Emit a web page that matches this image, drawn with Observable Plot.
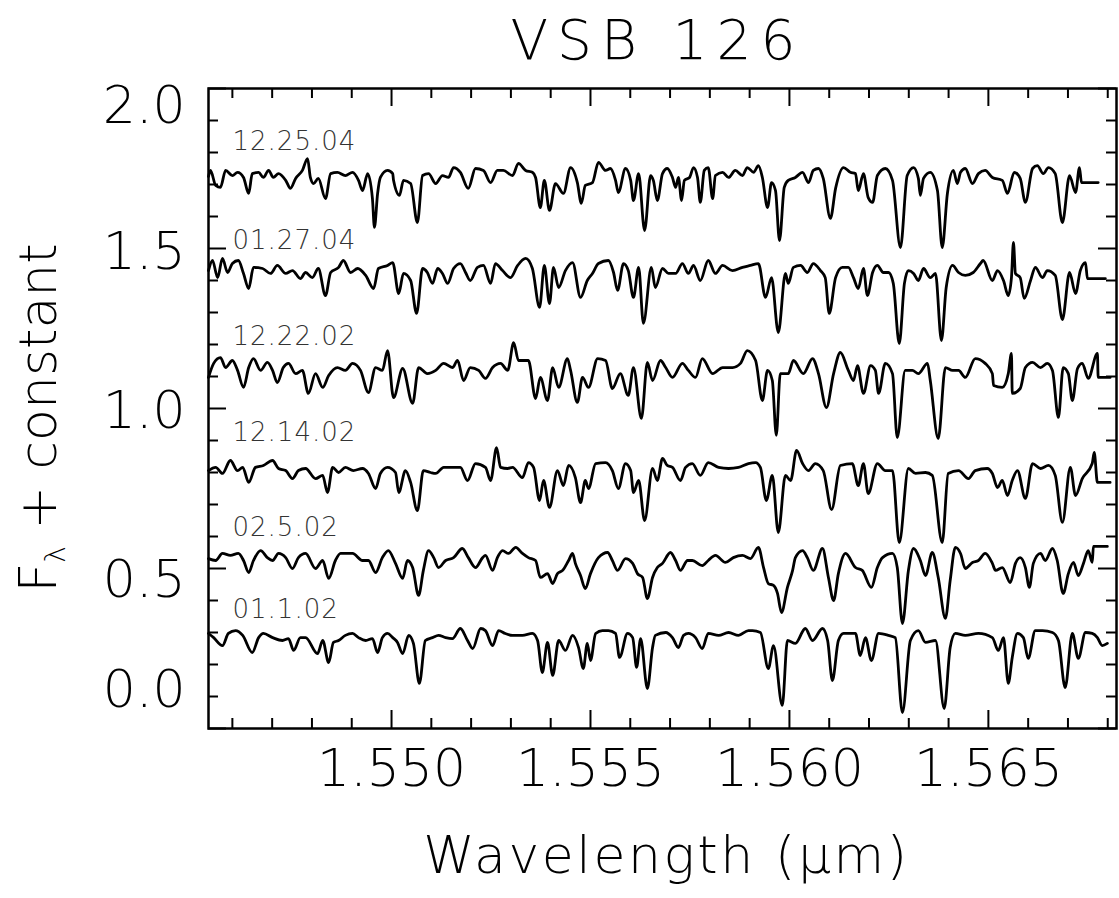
<!DOCTYPE html>
<html><head><meta charset="utf-8">
<script src="https://cdn.jsdelivr.net/npm/d3@7"></script>
<script src="https://cdn.jsdelivr.net/npm/@observablehq/plot@0.6"></script>
<style>
html,body{margin:0;padding:0;background:#fff;}
svg text{font-family:"DejaVu Sans";font-weight:200;}
</style>
</head><body><div id="chart"></div>
<script>
const title = "VSB 126";
const xTitle = "Wavelength (µm)";
const xMajorTicks = [1.550, 1.555, 1.560, 1.565];
const xMinorTicks = [1.546,1.547,1.548,1.549,1.551,1.552,1.553,1.554,1.556,1.557,1.558,1.559,1.561,1.562,1.563,1.564,1.566,1.567,1.568];
const yMajorTicks = [0, 0.5, 1.0, 1.5, 2.0];
const yMinorTicks = [0.1,0.2,0.3,0.4,0.6,0.7,0.8,0.9,1.1,1.2,1.3,1.4,1.6,1.7,1.8,1.9];
const yTickLabels = ["0.0","0.5","1.0","1.5","2.0"];
const yTickLabelAt = [0.119,0.4625,0.991,1.4875,1.944];
const spectrumDates = ["12.25.04","01.27.04","12.22.02","12.14.02","02.5.02","01.1.02"];
const dateLabelY = [1.834,1.525,1.225,0.925,0.628,0.372];

const spec_122504 = [[1.54540,1.725],[1.54545,1.744],[1.54558,1.697],[1.54570,1.691],[1.54583,1.744],[1.54600,1.728],[1.54613,1.738],[1.54628,1.722],[1.54641,1.672],[1.54650,1.734],[1.54666,1.738],[1.54678,1.722],[1.54691,1.744],[1.54703,1.722],[1.54716,1.734],[1.54734,1.713],[1.54746,1.688],[1.54759,1.719],[1.54776,1.744],[1.54789,1.781],[1.54796,1.722],[1.54804,1.703],[1.54816,1.719],[1.54834,1.656],[1.54847,1.734],[1.54864,1.738],[1.54884,1.728],[1.54902,1.738],[1.54917,1.713],[1.54927,1.681],[1.54940,1.734],[1.54952,1.656],[1.54957,1.566],[1.54965,1.672],[1.54972,1.722],[1.54990,1.744],[1.55003,1.734],[1.55005,1.713],[1.55020,1.666],[1.55030,1.713],[1.55048,1.703],[1.55065,1.581],[1.55078,1.728],[1.55093,1.734],[1.55111,1.703],[1.55128,1.728],[1.55143,1.722],[1.55156,1.753],[1.55173,1.738],[1.55193,1.688],[1.55211,1.750],[1.55231,1.744],[1.55249,1.706],[1.55266,1.744],[1.55281,1.744],[1.55304,1.728],[1.55319,1.766],[1.55337,1.744],[1.55354,1.738],[1.55362,1.722],[1.55374,1.628],[1.55384,1.713],[1.55397,1.619],[1.55412,1.703],[1.55432,1.672],[1.55450,1.753],[1.55467,1.706],[1.55477,1.641],[1.55487,1.697],[1.55505,1.706],[1.55520,1.769],[1.55538,1.744],[1.55550,1.750],[1.55563,1.713],[1.55570,1.675],[1.55588,1.750],[1.55601,1.713],[1.55608,1.650],[1.55621,1.734],[1.55636,1.556],[1.55651,1.728],[1.55658,1.713],[1.55668,1.650],[1.55681,1.734],[1.55693,1.750],[1.55706,1.722],[1.55714,1.691],[1.55721,1.722],[1.55729,1.650],[1.55736,1.713],[1.55749,1.722],[1.55759,1.753],[1.55769,1.722],[1.55776,1.644],[1.55786,1.744],[1.55796,1.753],[1.55807,1.656],[1.55814,1.728],[1.55832,1.738],[1.55847,1.722],[1.55864,1.744],[1.55882,1.728],[1.55894,1.753],[1.55910,1.738],[1.55922,1.759],[1.55932,1.722],[1.55945,1.628],[1.55955,1.706],[1.55965,1.681],[1.55975,1.525],[1.55987,1.691],[1.55997,1.713],[1.56015,1.722],[1.56033,1.738],[1.56048,1.706],[1.56060,1.744],[1.56073,1.750],[1.56085,1.719],[1.56103,1.594],[1.56116,1.688],[1.56136,1.753],[1.56153,1.738],[1.56166,1.734],[1.56173,1.681],[1.56186,1.734],[1.56198,1.659],[1.56209,1.644],[1.56221,1.728],[1.56241,1.750],[1.56259,1.713],[1.56279,1.503],[1.56296,1.728],[1.56312,1.753],[1.56324,1.719],[1.56329,1.666],[1.56337,1.719],[1.56354,1.738],[1.56372,1.681],[1.56384,1.503],[1.56397,1.672],[1.56412,1.744],[1.56422,1.703],[1.56430,1.738],[1.56442,1.750],[1.56460,1.703],[1.56475,1.734],[1.56492,1.744],[1.56510,1.722],[1.56535,1.713],[1.56548,1.672],[1.56565,1.738],[1.56580,1.719],[1.56593,1.644],[1.56611,1.750],[1.56623,1.759],[1.56638,1.734],[1.56651,1.753],[1.56668,1.734],[1.56686,1.581],[1.56704,1.728],[1.56719,1.675],[1.56729,1.753],[1.56734,1.706],[1.56776,1.706]];

const spec_012704 = [[1.54540,1.431],[1.54550,1.4625],[1.54563,1.409],[1.54575,1.469],[1.54588,1.425],[1.54600,1.453],[1.54615,1.4625],[1.54628,1.422],[1.54641,1.375],[1.54653,1.441],[1.54676,1.4375],[1.54696,1.422],[1.54713,1.447],[1.54734,1.422],[1.54751,1.431],[1.54771,1.406],[1.54784,1.425],[1.54801,1.409],[1.54816,1.4375],[1.54834,1.353],[1.54847,1.425],[1.54867,1.441],[1.54879,1.4625],[1.54897,1.425],[1.54915,1.4375],[1.54935,1.416],[1.54955,1.375],[1.54967,1.4375],[1.54990,1.447],[1.55003,1.456],[1.55018,1.359],[1.55030,1.422],[1.55048,1.400],[1.55063,1.297],[1.55078,1.4375],[1.55090,1.425],[1.55103,1.391],[1.55116,1.4375],[1.55128,1.422],[1.55141,1.391],[1.55156,1.4375],[1.55173,1.453],[1.55186,1.425],[1.55198,1.400],[1.55216,1.441],[1.55231,1.447],[1.55249,1.391],[1.55261,1.453],[1.55279,1.431],[1.55299,1.409],[1.55317,1.447],[1.55337,1.469],[1.55354,1.4375],[1.55372,1.316],[1.55384,1.447],[1.55397,1.328],[1.55407,1.441],[1.55420,1.378],[1.55437,1.431],[1.55455,1.456],[1.55475,1.347],[1.55492,1.400],[1.55505,1.422],[1.55520,1.453],[1.55545,1.4625],[1.55558,1.425],[1.55568,1.369],[1.55583,1.453],[1.55595,1.431],[1.55608,1.347],[1.55621,1.441],[1.55633,1.266],[1.55653,1.441],[1.55663,1.378],[1.55681,1.4375],[1.55696,1.422],[1.55714,1.422],[1.55731,1.453],[1.55746,1.422],[1.55759,1.447],[1.55776,1.400],[1.55796,1.4625],[1.55814,1.422],[1.55832,1.447],[1.55857,1.431],[1.55882,1.441],[1.55902,1.447],[1.55922,1.453],[1.55940,1.347],[1.55955,1.409],[1.55972,1.2375],[1.55990,1.422],[1.55997,1.391],[1.56010,1.441],[1.56028,1.447],[1.56045,1.425],[1.56060,1.453],[1.56078,1.431],[1.56090,1.409],[1.56100,1.297],[1.56116,1.409],[1.56133,1.441],[1.56148,1.441],[1.56161,1.409],[1.56173,1.375],[1.56186,1.4375],[1.56196,1.353],[1.56209,1.425],[1.56221,1.447],[1.56236,1.425],[1.56249,1.425],[1.56261,1.391],[1.56276,1.203],[1.56289,1.391],[1.56299,1.431],[1.56312,1.422],[1.56324,1.400],[1.56337,1.4375],[1.56354,1.409],[1.56367,1.422],[1.56382,1.2125],[1.56394,1.378],[1.56410,1.447],[1.56425,1.425],[1.56442,1.416],[1.56462,1.425],[1.56480,1.453],[1.56487,1.4625],[1.56510,1.400],[1.56523,1.431],[1.56538,1.400],[1.56550,1.353],[1.56558,1.409],[1.56563,1.519],[1.56568,1.422],[1.56580,1.409],[1.56590,1.344],[1.56606,1.400],[1.56618,1.441],[1.56636,1.409],[1.56648,1.431],[1.56668,1.416],[1.56686,1.278],[1.56704,1.425],[1.56719,1.359],[1.56731,1.431],[1.56744,1.456],[1.56749,1.406],[1.56794,1.406]];

const spec_122202 = [[1.54540,1.097],[1.54553,1.141],[1.54570,1.159],[1.54583,1.128],[1.54600,1.150],[1.54613,1.119],[1.54628,1.066],[1.54641,1.128],[1.54653,1.156],[1.54671,1.119],[1.54688,1.144],[1.54701,1.119],[1.54713,1.081],[1.54728,1.128],[1.54741,1.141],[1.54759,1.109],[1.54776,1.119],[1.54791,1.047],[1.54809,1.109],[1.54827,1.066],[1.54842,1.103],[1.54864,1.128],[1.54884,1.119],[1.54902,1.141],[1.54922,1.119],[1.54942,1.050],[1.54960,1.128],[1.54977,1.119],[1.54990,1.181],[1.55005,1.034],[1.55028,1.125],[1.55053,1.016],[1.55068,1.128],[1.55090,1.109],[1.55111,1.119],[1.55131,1.141],[1.55153,1.128],[1.55166,1.150],[1.55181,1.0875],[1.55198,1.128],[1.55219,1.119],[1.55236,1.094],[1.55254,1.128],[1.55274,1.141],[1.55292,1.119],[1.55307,1.206],[1.55319,1.150],[1.55344,1.150],[1.55362,1.031],[1.55374,1.097],[1.55392,1.025],[1.55405,1.128],[1.55420,1.066],[1.55442,1.156],[1.55450,1.119],[1.55467,1.019],[1.55480,1.097],[1.55495,1.066],[1.55518,1.156],[1.55538,1.150],[1.55555,1.0625],[1.55575,1.109],[1.55595,1.041],[1.55608,1.128],[1.55628,0.969],[1.55643,1.144],[1.55656,1.0875],[1.55676,1.150],[1.55689,1.128],[1.55706,1.097],[1.55731,1.141],[1.55746,1.119],[1.55764,1.097],[1.55781,1.156],[1.55807,1.109],[1.55832,1.128],[1.55857,1.128],[1.55877,1.141],[1.55894,1.181],[1.55915,1.150],[1.55932,1.025],[1.55945,1.119],[1.55957,1.0875],[1.55967,0.916],[1.55977,1.109],[1.55997,1.109],[1.56010,1.150],[1.56035,1.109],[1.56058,1.156],[1.56073,1.109],[1.56093,1.003],[1.56111,1.109],[1.56128,1.175],[1.56148,1.119],[1.56161,1.0875],[1.56171,1.134],[1.56186,1.047],[1.56204,1.134],[1.56216,1.119],[1.56224,1.047],[1.56241,1.141],[1.56259,1.109],[1.56271,0.909],[1.56291,1.119],[1.56309,1.119],[1.56324,1.109],[1.56347,1.141],[1.56354,1.0875],[1.56374,0.906],[1.56392,1.128],[1.56410,1.119],[1.56425,1.119],[1.56442,1.097],[1.56467,1.156],[1.56492,1.141],[1.56510,1.109],[1.56513,1.072],[1.56535,1.066],[1.56550,1.109],[1.56558,1.172],[1.56560,1.047],[1.56580,1.0625],[1.56593,1.128],[1.56611,1.144],[1.56631,1.128],[1.56648,1.141],[1.56661,1.119],[1.56676,0.972],[1.56688,1.128],[1.56701,1.109],[1.56711,1.025],[1.56724,1.125],[1.56736,1.141],[1.56751,1.094],[1.56774,1.172],[1.56776,1.097],[1.56806,1.097]];

const spec_121402 = [[1.54540,0.806],[1.54558,0.816],[1.54575,0.797],[1.54595,0.8375],[1.54613,0.806],[1.54626,0.816],[1.54641,0.769],[1.54658,0.816],[1.54678,0.822],[1.54701,0.8375],[1.54716,0.8125],[1.54734,0.806],[1.54751,0.781],[1.54766,0.806],[1.54784,0.8125],[1.54809,0.781],[1.54827,0.791],[1.54839,0.7375],[1.54852,0.816],[1.54867,0.800],[1.54884,0.816],[1.54904,0.806],[1.54927,0.8125],[1.54942,0.797],[1.54960,0.750],[1.54972,0.797],[1.54990,0.816],[1.55010,0.800],[1.55018,0.7375],[1.55035,0.806],[1.55048,0.769],[1.55065,0.681],[1.55080,0.806],[1.55098,0.800],[1.55111,0.797],[1.55131,0.816],[1.55153,0.816],[1.55173,0.816],[1.55191,0.775],[1.55211,0.828],[1.55236,0.816],[1.55249,0.775],[1.55264,0.878],[1.55274,0.816],[1.55292,0.8125],[1.55304,0.816],[1.55329,0.784],[1.55344,0.831],[1.55357,0.816],[1.55372,0.7125],[1.55382,0.775],[1.55397,0.691],[1.55417,0.806],[1.55432,0.759],[1.55445,0.822],[1.55462,0.784],[1.55475,0.706],[1.55487,0.775],[1.55495,0.750],[1.55513,0.828],[1.55538,0.831],[1.55555,0.806],[1.55570,0.750],[1.55588,0.828],[1.55601,0.806],[1.55608,0.7375],[1.55621,0.775],[1.55636,0.650],[1.55656,0.8125],[1.55668,0.775],[1.55681,0.844],[1.55693,0.822],[1.55706,0.816],[1.55726,0.775],[1.55739,0.816],[1.55756,0.828],[1.55776,0.791],[1.55796,0.831],[1.55822,0.816],[1.55847,0.8125],[1.55872,0.816],[1.55897,0.828],[1.55915,0.831],[1.55927,0.816],[1.55942,0.7125],[1.55957,0.791],[1.55972,0.6125],[1.55990,0.791],[1.56003,0.775],[1.56018,0.869],[1.56033,0.828],[1.56048,0.806],[1.56065,0.828],[1.56085,0.806],[1.56106,0.684],[1.56128,0.822],[1.56158,0.828],[1.56173,0.759],[1.56186,0.828],[1.56198,0.734],[1.56221,0.828],[1.56241,0.806],[1.56259,0.806],[1.56276,0.581],[1.56299,0.8125],[1.56317,0.797],[1.56342,0.800],[1.56359,0.791],[1.56384,0.581],[1.56399,0.797],[1.56425,0.806],[1.56450,0.781],[1.56467,0.806],[1.56497,0.8125],[1.56510,0.797],[1.56523,0.753],[1.56535,0.775],[1.56548,0.728],[1.56560,0.775],[1.56573,0.806],[1.56593,0.719],[1.56611,0.828],[1.56631,0.8125],[1.56651,0.822],[1.56668,0.791],[1.56686,0.644],[1.56706,0.816],[1.56719,0.728],[1.56736,0.781],[1.56761,0.828],[1.56766,0.8625],[1.56774,0.769],[1.56806,0.769]];

const spec_020502 = [[1.54540,0.531],[1.54558,0.525],[1.54575,0.547],[1.54595,0.541],[1.54615,0.547],[1.54628,0.525],[1.54641,0.4875],[1.54653,0.525],[1.54671,0.556],[1.54688,0.534],[1.54701,0.525],[1.54716,0.547],[1.54734,0.534],[1.54751,0.500],[1.54766,0.534],[1.54784,0.547],[1.54809,0.500],[1.54827,0.525],[1.54842,0.469],[1.54859,0.525],[1.54872,0.547],[1.54902,0.547],[1.54927,0.525],[1.54942,0.525],[1.54960,0.4875],[1.54977,0.534],[1.54992,0.556],[1.55010,0.516],[1.55028,0.469],[1.55040,0.525],[1.55053,0.503],[1.55068,0.416],[1.55080,0.494],[1.55093,0.556],[1.55106,0.534],[1.55118,0.503],[1.55136,0.525],[1.55156,0.534],[1.55178,0.5625],[1.55193,0.534],[1.55211,0.503],[1.55229,0.534],[1.55236,0.541],[1.55254,0.494],[1.55266,0.534],[1.55279,0.556],[1.55294,0.547],[1.55312,0.566],[1.55329,0.547],[1.55344,0.534],[1.55362,0.525],[1.55374,0.472],[1.55392,0.484],[1.55405,0.453],[1.55417,0.484],[1.55430,0.494],[1.55445,0.525],[1.55455,0.547],[1.55462,0.516],[1.55475,0.478],[1.55487,0.4375],[1.55500,0.484],[1.55520,0.534],[1.55543,0.550],[1.55555,0.525],[1.55568,0.494],[1.55588,0.531],[1.55606,0.516],[1.55618,0.484],[1.55631,0.472],[1.55643,0.406],[1.55656,0.472],[1.55668,0.503],[1.55681,0.516],[1.55701,0.550],[1.55714,0.525],[1.55726,0.494],[1.55744,0.525],[1.55756,0.525],[1.55781,0.509],[1.55796,0.525],[1.55814,0.541],[1.55839,0.519],[1.55859,0.534],[1.55882,0.541],[1.55902,0.531],[1.55922,0.566],[1.55935,0.503],[1.55947,0.453],[1.55960,0.447],[1.55970,0.422],[1.55980,0.3625],[1.55995,0.441],[1.56008,0.494],[1.56015,0.534],[1.56033,0.556],[1.56045,0.534],[1.56060,0.494],[1.56083,0.5625],[1.56098,0.472],[1.56111,0.400],[1.56123,0.484],[1.56141,0.547],[1.56166,0.503],[1.56183,0.494],[1.56206,0.441],[1.56221,0.503],[1.56234,0.534],[1.56259,0.547],[1.56271,0.503],[1.56284,0.328],[1.56299,0.494],[1.56312,0.5625],[1.56329,0.525],[1.56342,0.478],[1.56359,0.550],[1.56374,0.472],[1.56392,0.344],[1.56404,0.4625],[1.56417,0.566],[1.56430,0.547],[1.56442,0.500],[1.56460,0.519],[1.56475,0.525],[1.56492,0.547],[1.56510,0.516],[1.56518,0.494],[1.56535,0.503],[1.56555,0.456],[1.56568,0.516],[1.56580,0.534],[1.56593,0.503],[1.56603,0.441],[1.56613,0.516],[1.56631,0.547],[1.56643,0.525],[1.56661,0.5625],[1.56673,0.525],[1.56688,0.422],[1.56701,0.484],[1.56714,0.519],[1.56726,0.478],[1.56739,0.516],[1.56751,0.556],[1.56761,0.519],[1.56764,0.569],[1.56799,0.569]];

const spec_010102 = [[1.54540,0.297],[1.54553,0.284],[1.54575,0.259],[1.54590,0.297],[1.54608,0.306],[1.54626,0.291],[1.54650,0.2375],[1.54666,0.284],[1.54678,0.297],[1.54701,0.284],[1.54726,0.275],[1.54741,0.281],[1.54754,0.244],[1.54771,0.284],[1.54784,0.284],[1.54814,0.234],[1.54827,0.275],[1.54842,0.206],[1.54854,0.269],[1.54867,0.275],[1.54884,0.291],[1.54902,0.297],[1.54917,0.284],[1.54935,0.275],[1.54952,0.281],[1.54965,0.2375],[1.54977,0.284],[1.54990,0.297],[1.55003,0.284],[1.55015,0.269],[1.55028,0.234],[1.55043,0.291],[1.55055,0.266],[1.55070,0.141],[1.55085,0.275],[1.55103,0.284],[1.55118,0.291],[1.55136,0.284],[1.55153,0.281],[1.55173,0.3125],[1.55191,0.275],[1.55204,0.250],[1.55224,0.3125],[1.55236,0.306],[1.55254,0.259],[1.55269,0.306],[1.55286,0.297],[1.55304,0.291],[1.55329,0.291],[1.55354,0.297],[1.55367,0.275],[1.55379,0.175],[1.55392,0.269],[1.55405,0.166],[1.55420,0.275],[1.55437,0.244],[1.55455,0.291],[1.55470,0.253],[1.55482,0.1875],[1.55492,0.266],[1.55500,0.2125],[1.55513,0.297],[1.55530,0.306],[1.55545,0.306],[1.55563,0.297],[1.55573,0.222],[1.55593,0.297],[1.55606,0.284],[1.55616,0.191],[1.55626,0.281],[1.55643,0.125],[1.55656,0.253],[1.55663,0.291],[1.55689,0.300],[1.55706,0.284],[1.55721,0.253],[1.55734,0.291],[1.55746,0.297],[1.55764,0.284],[1.55781,0.250],[1.55796,0.297],[1.55822,0.291],[1.55847,0.300],[1.55872,0.291],[1.55897,0.306],[1.55907,0.306],[1.55927,0.300],[1.55947,0.1875],[1.55960,0.259],[1.55982,0.072],[1.55995,0.275],[1.56015,0.266],[1.56040,0.3125],[1.56058,0.275],[1.56083,0.3125],[1.56096,0.275],[1.56108,0.150],[1.56123,0.275],[1.56136,0.297],[1.56166,0.297],[1.56178,0.228],[1.56191,0.284],[1.56206,0.2125],[1.56224,0.297],[1.56249,0.291],[1.56266,0.284],[1.56284,0.050],[1.56304,0.275],[1.56324,0.306],[1.56342,0.269],[1.56367,0.275],[1.56389,0.0625],[1.56404,0.253],[1.56417,0.297],[1.56442,0.291],[1.56475,0.297],[1.56510,0.284],[1.56525,0.244],[1.56538,0.284],[1.56550,0.141],[1.56560,0.222],[1.56573,0.297],[1.56588,0.284],[1.56600,0.219],[1.56618,0.306],[1.56636,0.306],[1.56661,0.300],[1.56676,0.275],[1.56693,0.128],[1.56711,0.297],[1.56726,0.219],[1.56744,0.300],[1.56761,0.297],[1.56774,0.284],[1.56786,0.259],[1.56799,0.266]];

const spectra = [spec_122504, spec_012704, spec_122202, spec_121402, spec_020502, spec_010102];
const rows = spectra.flatMap((s, i) => s.map(([w, f]) => ({date: spectrumDates[i], w, f})));
const yLabelRows = yTickLabels.map((t, i) => ({t, at: yTickLabelAt[i]}));
const dateRows = spectrumDates.map((d, i) => ({d, y: dateLabelY[i]}));

const W = 1119, H = 898, mL = 208, mR = 3, mT = 88, mB = 170;
const pW = W - mL - mR, pH = H - mT - mB;
const majLen = 18, minLen = 10;

const chart = Plot.plot({
  width: W, height: H,
  marginLeft: mL, marginRight: mR, marginTop: mT, marginBottom: mB,
  x: {domain: [1.54540, 1.56822], axis: null},
  y: {domain: [0, 2], axis: null},
  style: {background: "white", fontFamily: "DejaVu Sans", color: "black"},
  marks: [
    Plot.line(rows, {x: "w", y: "f", z: "date", stroke: "black", strokeWidth: 2.8, curve: "monotone-x"}),
    Plot.tickX(xMinorTicks, {x: d => d, insetTop: pH - minLen, stroke: "black", strokeWidth: 2}),
    Plot.tickX(xMajorTicks, {x: d => d, insetTop: pH - majLen, stroke: "black", strokeWidth: 2}),
    Plot.tickX(xMinorTicks, {x: d => d, insetBottom: pH - minLen, stroke: "black", strokeWidth: 2}),
    Plot.tickX(xMajorTicks, {x: d => d, insetBottom: pH - majLen, stroke: "black", strokeWidth: 2}),
    Plot.tickY(yMinorTicks, {y: d => d, insetRight: pW - minLen, stroke: "black", strokeWidth: 2}),
    Plot.tickY(yMajorTicks, {y: d => d, insetRight: pW - majLen, stroke: "black", strokeWidth: 2}),
    Plot.tickY(yMinorTicks, {y: d => d, insetLeft: pW - minLen, stroke: "black", strokeWidth: 2}),
    Plot.tickY(yMajorTicks, {y: d => d, insetLeft: pW - majLen, stroke: "black", strokeWidth: 2}),
    Plot.frame({stroke: "black", strokeWidth: 2.5}),
    Plot.text(xMajorTicks, {x: d => d, text: d => d3.format(".3f")(d), frameAnchor: "bottom", dy: 57, lineAnchor: "bottom", fontSize: 52, fill: "black"}),
    Plot.text(yLabelRows, {y: "at", text: "t", frameAnchor: "left", textAnchor: "end", dx: -23, lineAnchor: "middle", fontSize: 52, fill: "black"}),
    Plot.text(dateRows, {y: "y", text: "d", frameAnchor: "left", textAnchor: "start", dx: 24, lineAnchor: "middle", fontSize: 26, fill: "#333"}),
    Plot.text([title], {text: d => d, frameAnchor: "top", dy: -30, dx: -5, lineAnchor: "bottom", fontSize: 55, fill: "black"}),
    Plot.text([xTitle], {text: d => d, frameAnchor: "bottom", dy: 144, dx: 4, lineAnchor: "bottom", fontSize: 52, fill: "black"})
  ]
});

const svg = d3.select(chart);
svg.selectAll("text").each(function() {
  const t = this.textContent;
  if (t === title) d3.select(this).style("letter-spacing", "9px");
  else if (t === xTitle) d3.select(this).style("letter-spacing", "2.6px");
  else if (spectrumDates.includes(t)) d3.select(this).style("letter-spacing", "1px");
});
const yl = svg.append("text")
  .attr("transform", "translate(56,418) rotate(-90)")
  .attr("text-anchor", "middle")
  .attr("font-size", 52)
  .attr("fill", "black");
yl.append("tspan").text("F");
yl.append("tspan").attr("font-size", 28).attr("dy", 9).text("λ");
yl.append("tspan").attr("dy", -9).text("\u00a0+ constant");

document.getElementById("chart").appendChild(chart);
</script>
</body></html>
